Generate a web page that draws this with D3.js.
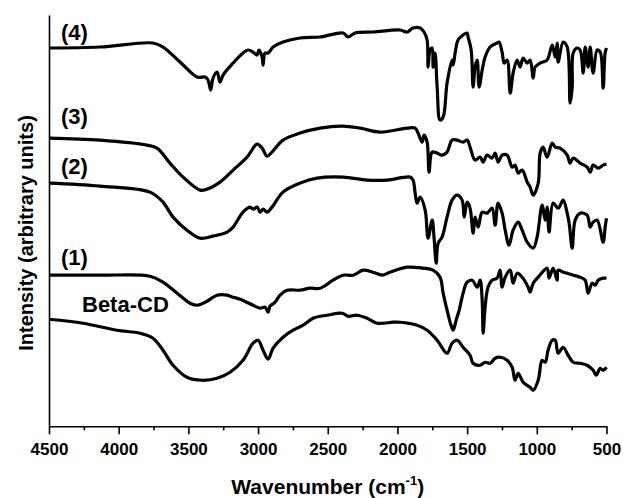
<!DOCTYPE html>
<html>
<head>
<meta charset="utf-8">
<script src="https://cdn.jsdelivr.net/npm/d3@7"></script>
<style>
  body { margin: 0; background: #fff; }
  svg { display: block; font-family: Arial, "Liberation Sans", sans-serif; }
</style>
</head>
<body>
<div id="ftir"></div>
<script>
// [wavenumber (cm-1), intensity (arbitrary units)]
const spec4 = [[4500,378],[4134,379],[3754,383],[3682,379],[3560,364],[3438,349],[3380,349],[3359,346],[3340,336],[3323,348],[3294,354],[3273,344],[3251,351],[3179,363],[3108,373],[3072,376],[3036,374],[3007,371],[2993,376],[2971,369],[2964,361],[2950,373],[2928,373],[2892,379],[2821,384],[2699,388],[2555,389],[2390,393],[2354,389],[2304,393],[2175,394],[1981,396],[1931,394],[1888,398],[1837,398],[1809,394],[1787,386],[1780,359],[1766,376],[1751,378],[1744,359],[1730,373],[1715,339],[1694,306],[1672,309],[1644,343],[1608,366],[1600,361],[1586,373],[1565,386],[1529,391],[1500,393],[1493,389],[1471,376],[1457,339],[1443,359],[1428,366],[1414,339],[1392,356],[1371,369],[1335,379],[1285,383],[1271,384],[1249,374],[1234,363],[1213,366],[1191,333],[1170,353],[1141,366],[1120,359],[1098,368],[1069,363],[1048,366],[1026,348],[1012,359],[976,363],[926,366],[890,381],[868,369],[854,383],[847,364],[811,384],[782,379],[761,323],[746,339],[739,373],[711,378],[689,376],[667,353],[653,379],[632,359],[617,379],[596,353],[567,376],[545,374],[524,338],[510,373],[500,378]];

const spec3 = [[4500,288],[4134,286],[3797,281],[3725,278],[3632,263],[3538,249],[3416,236],[3366,237],[3273,244],[3179,256],[3079,269],[3007,282],[2971,278],[2935,270],[2900,274],[2821,286],[2699,293],[2555,298],[2397,300],[2268,298],[2124,294],[1931,298],[1873,298],[1852,293],[1823,284],[1809,291],[1787,284],[1773,254],[1751,274],[1715,273],[1680,271],[1644,274],[1608,286],[1572,286],[1529,284],[1500,286],[1479,279],[1443,266],[1407,269],[1385,264],[1357,271],[1321,268],[1299,273],[1278,264],[1249,271],[1213,271],[1177,259],[1156,261],[1134,253],[1105,256],[1069,244],[1048,239],[1026,231],[990,243],[976,273],[955,279],[926,269],[890,283],[868,279],[833,278],[782,271],[761,263],[739,268],[689,263],[639,259],[617,254],[596,261],[560,258],[524,261],[500,262]];

const spec2 = [[4500,243],[4134,240],[3775,234],[3682,224],[3610,209],[3510,196],[3416,188],[3323,190],[3222,194],[3179,199],[3108,214],[3057,219],[3036,217],[3007,219],[2986,214],[2964,217],[2935,214],[2900,219],[2821,234],[2699,243],[2577,248],[2390,249],[2218,246],[2074,246],[1909,249],[1888,246],[1873,233],[1859,223],[1837,229],[1801,216],[1780,188],[1751,206],[1737,188],[1722,163],[1708,183],[1680,189],[1644,209],[1608,226],[1572,231],[1536,226],[1521,209],[1500,224],[1479,218],[1457,193],[1443,209],[1421,199],[1392,214],[1357,213],[1321,218],[1299,201],[1278,223],[1249,213],[1227,196],[1199,181],[1170,196],[1134,204],[1105,196],[1069,184],[1026,178],[998,189],[962,221],[940,206],[926,219],[912,194],[883,223],[847,218],[811,226],[782,213],[768,203],[746,178],[725,206],[689,213],[639,211],[617,199],[596,204],[567,206],[524,184],[510,199],[500,208]];

const spec1 = [[4500,151],[4134,151],[3775,150],[3682,144],[3581,133],[3488,123],[3431,121],[3366,125],[3294,131],[3222,131],[3179,129],[3129,127],[3036,121],[2986,118],[2950,119],[2928,114],[2914,120],[2878,124],[2842,131],[2792,136],[2699,136],[2627,138],[2555,138],[2462,146],[2390,151],[2318,151],[2246,156],[2175,154],[2110,151],[2053,154],[1931,159],[1816,158],[1744,156],[1694,149],[1672,133],[1644,116],[1622,104],[1600,96],[1579,106],[1557,116],[1529,133],[1500,144],[1464,146],[1428,139],[1407,146],[1392,126],[1385,93],[1371,119],[1350,139],[1321,146],[1285,148],[1263,156],[1249,139],[1227,149],[1191,156],[1170,143],[1141,153],[1105,149],[1062,139],[1048,134],[1026,143],[990,149],[926,158],[912,148],[883,158],[854,146],[847,156],[811,154],[782,153],[739,151],[689,149],[653,146],[632,133],[603,143],[581,141],[560,146],[524,148],[500,148]];

const specBetaCD = [[4500,107],[4256,103],[4012,96],[3847,93],[3754,88],[3682,76],[3610,61],[3510,49],[3402,46],[3294,48],[3201,54],[3108,66],[3036,83],[3000,86],[2964,76],[2928,67],[2892,78],[2821,89],[2749,96],[2677,101],[2605,108],[2505,111],[2397,113],[2354,110],[2290,111],[2218,108],[2146,103],[2031,104],[1981,104],[1859,101],[1787,96],[1715,86],[1644,73],[1608,83],[1572,86],[1529,79],[1479,71],[1457,63],[1407,61],[1371,64],[1335,63],[1299,68],[1263,69],[1213,66],[1177,59],[1156,46],[1134,53],[1098,44],[1048,39],[1026,36],[990,46],[962,66],[940,64],[919,76],[890,86],[868,86],[847,73],[811,79],[775,71],[739,64],[689,63],[639,61],[596,56],[574,51],[545,58],[524,56],[500,59]];

const seriesNames = ['(4)', '(3)', '(2)', '(1)', 'Beta-CD'];
const seriesData = [spec4, spec3, spec2, spec1, specBetaCD];
const xTicks = [4500, 4000, 3500, 3000, 2500, 2000, 1500, 1000, 500];
const xMinorTicks = [4250, 3750, 3250, 2750, 2250, 1750, 1250, 750];

const width = 623;
const height = 498;
const margin = { left: 49, right: 16, top: 15, bottom: 72 };

const svg = d3.select('#ftir')
  .append('svg')
  .attr('width', width)
  .attr('height', height);

const xScale = d3.scaleLinear()
  .domain([4500, 500])
  .range([margin.left, width - margin.right - 0.5]);

const yScale = d3.scaleLinear()
  .domain([0, 411])
  .range([height - margin.bottom + 0.3, margin.top]);

const line = d3.line()
  .x(d => xScale(d[0]))
  .y(d => yScale(d[1]))
  .curve(d3.curveCatmullRom.alpha(0.5));

seriesData.forEach(s => {
  svg.append('path')
    .datum(s)
    .attr('d', line)
    .attr('fill', 'none')
    .attr('stroke', '#000')
    .attr('stroke-width', 3.2)
    .attr('stroke-linejoin', 'round');
});

// axes
const xAxis = svg.append('g')
  .attr('class', 'axis')
  .attr('transform', `translate(0,${yScale(0)})`)
  .call(d3.axisBottom(xScale).tickValues(xTicks).tickSize(8).tickSizeOuter(0).tickPadding(9).tickFormat(d3.format('d')));

xAxis.selectAll('text')
  .attr('font-size', '17px')
  .attr('font-weight', 'bold')
  .attr('font-family', 'Arial, "Liberation Sans", sans-serif')
  .attr('fill', '#000');
xAxis.selectAll('line, path').attr('stroke', '#000').attr('stroke-width', 1.6);

svg.append('g')
  .attr('transform', `translate(0,${yScale(0)})`)
  .call(d3.axisBottom(xScale).tickValues(xMinorTicks).tickSize(4).tickFormat(''))
  .call(g => g.select('.domain').remove())
  .selectAll('line').attr('stroke', '#000').attr('stroke-width', 1.6);

svg.append('g')
  .attr('transform', `translate(${margin.left},0)`)
  .call(d3.axisLeft(yScale).tickValues([]).tickSizeOuter(0))
  .selectAll('path').attr('stroke', '#000').attr('stroke-width', 1.6);

// series labels
const labelPos = [[61, 40], [61, 124], [61, 174], [61, 265], [82, 312]];
seriesNames.forEach((name, i) => {
  svg.append('text')
    .attr('x', labelPos[i][0])
    .attr('y', labelPos[i][1])
    .attr('font-size', '22px')
    .attr('font-weight', 'bold')
    .text(name);
});

// axis titles
const xTitle = svg.append('text')
  .attr('x', (xScale(4500) + xScale(500)) / 2)
  .attr('y', 494)
  .attr('text-anchor', 'middle')
  .attr('font-size', '21px')
  .attr('font-weight', 'bold');
xTitle.append('tspan').text('Wavenumber (cm');
xTitle.append('tspan').attr('font-size', '13px').attr('dy', -9).text('-1');
xTitle.append('tspan').attr('dy', 9).text(')');

svg.append('text')
  .attr('transform', `translate(33,233) rotate(-90)`)
  .attr('text-anchor', 'middle')
  .attr('font-size', '20px')
  .attr('font-weight', 'bold')
  .text('Intensity (arbitrary units)');
</script>
</body>
</html>
